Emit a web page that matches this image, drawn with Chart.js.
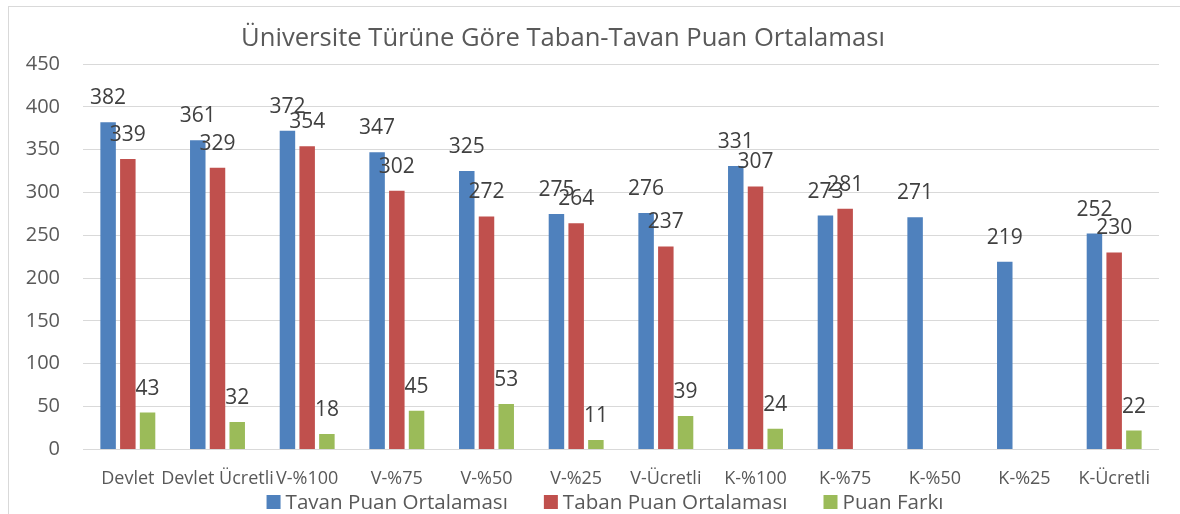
<!DOCTYPE html>
<html lang="tr">
<head>
  <meta charset="UTF-8">
  <title>Üniversite Türüne Göre Taban-Tavan Puan Ortalaması</title>
  <script src="https://cdn.jsdelivr.net/npm/chart.js"></script>
  <style>
    html, body { margin:0; padding:0; background:#fff; }
    canvas { display:block; }
  </style>
</head>
<body>
  <canvas id="puanChart" width="1180" height="514"></canvas>

  <script>
    // data
    const chartTitle = 'Üniversite Türüne Göre Taban-Tavan Puan Ortalaması';
    const categories = ['Devlet', 'Devlet Ücretli', 'V-%100', 'V-%75', 'V-%50', 'V-%25',
                        'V-Ücretli', 'K-%100', 'K-%75', 'K-%50', 'K-%25', 'K-Ücretli'];
    const seriesNames = ['Tavan Puan Ortalaması', 'Taban Puan Ortalaması', 'Puan Farkı'];
    const tavan = [382, 361, 372, 347, 325, 275, 276, 331, 273, 271, 219, 252];
    const taban = [339, 329, 354, 302, 272, 264, 237, 307, 281, null, null, 230];
    const fark  = [43, 32, 18, 45, 53, 11, 39, 24, null, null, null, 22];
    const yMin = 0, yMax = 450, yStep = 50;

    const FONT = '"Open Sans", sans-serif';
    const TEXT = '#595959';
    const colors = ['#4F81BD', '#C0504D', '#9BBB59'];

    // border, title and legend drawn the way the spreadsheet did
    const framePlugin = {
      id: 'frame',
      beforeDraw(chart) {
        const ctx = chart.ctx;
        ctx.save();
        ctx.fillStyle = '#fff';
        ctx.fillRect(0, 0, chart.width, chart.height);
        ctx.strokeStyle = '#D9D9D9';
        ctx.lineWidth = 1;
        ctx.strokeRect(8.5, 6.5, chart.width + 20, chart.height + 20);
        ctx.restore();
      },
      afterDraw(chart) {
        const ctx = chart.ctx;
        ctx.save();
        ctx.fillStyle = TEXT;
        ctx.font = '25.6px ' + FONT;
        ctx.textAlign = 'center';
        ctx.textBaseline = 'alphabetic';
        ctx.fillText(chartTitle, 563, 46);

        ctx.font = '20.6px ' + FONT;
        const box = 14, gap = 5, itemGap = 36;
        const items = chart.data.datasets.map(ds => ({
          text: ds.label, color: ds.backgroundColor,
          w: box + gap + ctx.measureText(ds.label).width
        }));
        const total = items.reduce((s, it) => s + it.w, 0) + itemGap * (items.length - 1);
        let x = 605 - total / 2;
        const y = 502;
        ctx.textAlign = 'left';
        ctx.textBaseline = 'middle';
        items.forEach(it => {
          ctx.fillStyle = it.color;
          ctx.fillRect(x, y - box / 2, box, box);
          ctx.fillStyle = TEXT;
          ctx.fillText(it.text, x + box + gap, y + 1);
          x += it.w + itemGap;
        });
        ctx.restore();
      }
    };

    // value above every bar
    const valueLabels = {
      id: 'valueLabels',
      afterDatasetsDraw(chart) {
        const ctx = chart.ctx;
        ctx.save();
        ctx.font = '21px ' + FONT;
        ctx.fillStyle = '#404040';
        ctx.textAlign = 'center';
        ctx.textBaseline = 'alphabetic';
        chart.data.datasets.forEach((ds, i) => {
          chart.getDatasetMeta(i).data.forEach((bar, j) => {
            const v = ds.data[j];
            if (v == null) return;
            ctx.fillText(String(v), bar.x, bar.y - 18);
          });
        });
        ctx.restore();
      }
    };

    new Chart(document.getElementById('puanChart'), {
      type: 'bar',
      data: {
        labels: categories,
        datasets: [
          { label: seriesNames[0], data: tavan, backgroundColor: colors[0] },
          { label: seriesNames[1], data: taban, backgroundColor: colors[1] },
          { label: seriesNames[2], data: fark,  backgroundColor: colors[2] }
        ]
      },
      options: {
        responsive: false,
        animation: false,
        layout: { padding: { left: 0, right: 21, top: 64, bottom: 5 } },
        datasets: { bar: { categoryPercentage: 0.66, barPercentage: 0.785 } },
        plugins: { legend: { display: false }, title: { display: false }, tooltip: { enabled: false } },
        scales: {
          x: {
            grid: { display: false, drawTicks: false },
            border: { display: false },
            ticks: { color: TEXT, font: { family: FONT, size: 18 }, padding: 19,
                     maxRotation: 0, autoSkip: false }
          },
          y: {
            min: yMin, max: yMax,
            grid: { color: '#D9D9D9', drawTicks: false },
            border: { display: false },
            ticks: { stepSize: yStep, color: TEXT, font: { family: FONT, size: 20 }, padding: 23 },
            afterFit(scale) { scale.width = 83; }
          }
        }
      },
      plugins: [framePlugin, valueLabels]
    });
  </script>
</body>
</html>
